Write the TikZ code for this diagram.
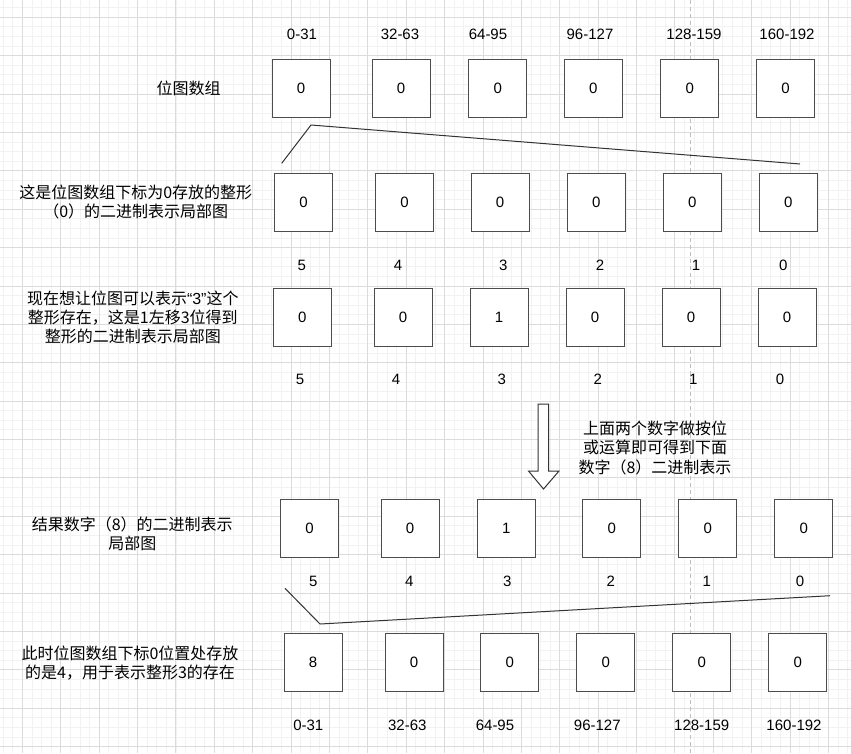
\documentclass[tikz,border=0pt]{standalone}
\usepackage{fontspec}
\setmainfont{Liberation Sans}
\newfontfamily\cjk{Noto Sans CJK SC}
\begin{document}
\begin{tikzpicture}[x=1pt,y=-1pt,
  cell/.style={draw=black!70,line width=1pt,fill=white,minimum width=58pt,minimum height=58pt,inner sep=0pt,font=\fontsize{15}{18}\selectfont},
  num/.style={inner sep=0pt,font=\fontsize{15}{18}\selectfont},
  cn/.style={inner sep=0pt,align=center,font=\cjk\fontsize{16}{19.3}\selectfont},
  conn/.style={draw=black!80,line width=1pt}]
\useasboundingbox (0,0) rectangle (851,753);
\fill[white] (0,0) rectangle (851,753);
% grid
\foreach \i in {-2,...,87}{
  \draw[draw=black!5,line width=0.8pt] ({22.4+\i*9.595},0) -- ({22.4+\i*9.595},753);}
\foreach \i in {-2,...,77}{
  \draw[draw=black!5,line width=0.8pt] (0,{17.3+\i*9.595}) -- (851,{17.3+\i*9.595});}
\foreach \i in {0,...,22}{
  \draw[draw=black!14,line width=0.9pt] ({22.4+\i*38.38},0) -- ({22.4+\i*38.38},753);}
\foreach \i in {0,...,19}{
  \draw[draw=black!14,line width=0.9pt] (0,{17.3+\i*38.38}) -- (851,{17.3+\i*38.38});}
\draw[draw=black!25,line width=0.9pt,dash pattern=on 4pt off 3pt] (690.8,0) -- (690.8,753);

% row 0 range labels
\node[num] (r1) at (302,34.5) {0-31};
\node[num] (r2) at (400,34.5) {32-63};
\node[num] (r3) at (488,34.5) {64-95};
\node[num] (r4) at (590,34.5) {96-127};
\node[num] (r5) at (694,34.5) {128-159};
\node[num] (r6) at (787,34.5) {160-192};

% row 1
\node[cn] (t1) at (188.7,88.5) {位图数组};
\node[cell] (a1) at (301,88.3) {0};
\node[cell] (a2) at (401,88.3) {0};
\node[cell] (a3) at (497.7,88.3) {0};
\node[cell] (a4) at (593.3,88.3) {0};
\node[cell] (a5) at (689.7,88.3) {0};
\node[cell] (a6) at (785.5,88.3) {0};

\coordinate (l1a) at (281.7,163.3);
\coordinate (l1b) at (311,125);
\coordinate (l1c) at (800,164);
\draw[conn] (l1a) -- (l1b) -- (l1c);

% row 2
\node[cn] (t2) at (135.7,202) {这是位图数组下标为0存放的整形\\（0）的二进制表示局部图};
\node[cell] (b1) at (303.5,202) {0};
\node[cell] (b2) at (404.5,202) {0};
\node[cell] (b3) at (500,202) {0};
\node[cell] (b4) at (596.3,202) {0};
\node[cell] (b5) at (692.3,202) {0};
\node[cell] (b6) at (788.3,202) {0};

\node[num] (d21) at (301.7,265) {5};
\node[num] (d22) at (398,265) {4};
\node[num] (d23) at (503.3,265) {3};
\node[num] (d24) at (600,265) {2};
\node[num] (d25) at (696,265) {1};
\node[num] (d26) at (783.3,265) {0};

% row 3
\node[cn] (t3) at (132.8,317.5) {现在想让位图可以表示{\rmfamily “3”}这个\\整形存在，这是1左移3位得到\\整形的二进制表示局部图};
\node[cell] (c1) at (302.2,317.3) {0};
\node[cell] (c2) at (403,317.3) {0};
\node[cell] (c3) at (499,317.3) {1};
\node[cell] (c4) at (595,317.3) {0};
\node[cell] (c5) at (691,317.3) {0};
\node[cell] (c6) at (787,317.3) {0};

\node[num] (d31) at (300,379) {5};
\node[num] (d32) at (396,379) {4};
\node[num] (d33) at (501.7,379) {3};
\node[num] (d34) at (597.7,379) {2};
\node[num] (d35) at (693.3,379) {1};
\node[num] (d36) at (780,379) {0};

% arrow
\draw[draw=black!80,line width=1pt,fill=white,line join=miter]
  (538,404) -- (548.5,404) -- (548.5,471) -- (559,471) -- (543.5,489) -- (528.5,471) -- (538,471) -- cycle;
\node[cn] (t4) at (655,447.7) {上面两个数字做按位\\或运算即可得到下面\\数字（8）二进制表示};

% row 4
\node[cn] (t5) at (132.3,534) {结果数字（8）的二进制表示\\局部图};
\node[cell] (e1) at (309.5,528.3) {0};
\node[cell] (e2) at (410,528.3) {0};
\node[cell] (e3) at (506.3,528.3) {1};
\node[cell] (e4) at (611.7,528.3) {0};
\node[cell] (e5) at (707.7,528.3) {0};
\node[cell] (e6) at (803.7,528.3) {0};

\node[num] (d41) at (313.3,581) {5};
\node[num] (d42) at (409.3,581) {4};
\node[num] (d43) at (507.3,581) {3};
\node[num] (d44) at (610.7,581) {2};
\node[num] (d45) at (706.7,581) {1};
\node[num] (d46) at (800,581) {0};

\coordinate (l2a) at (285,588.3);
\coordinate (l2b) at (320,624);
\coordinate (l2c) at (830,595.7);
\draw[conn] (l2a) -- (l2b) -- (l2c);

% row 5
\node[cn] (t6) at (130,663) {此时位图数组下标0位置处存放\\的是4，用于表示整形3的存在};
\node[cell] (f1) at (313,662.8) {8};
\node[cell] (f2) at (414,662.8) {0};
\node[cell] (f3) at (509.7,662.8) {0};
\node[cell] (f4) at (605.7,662.8) {0};
\node[cell] (f5) at (701.7,662.8) {0};
\node[cell] (f6) at (797.7,662.8) {0};

\node[num] (s1) at (308.3,725.7) {0-31};
\node[num] (s2) at (407.3,725.7) {32-63};
\node[num] (s3) at (495,725.7) {64-95};
\node[num] (s4) at (597.3,725.7) {96-127};
\node[num] (s5) at (701.7,725.7) {128-159};
\node[num] (s6) at (794,725.7) {160-192};
\end{tikzpicture}
\end{document}
